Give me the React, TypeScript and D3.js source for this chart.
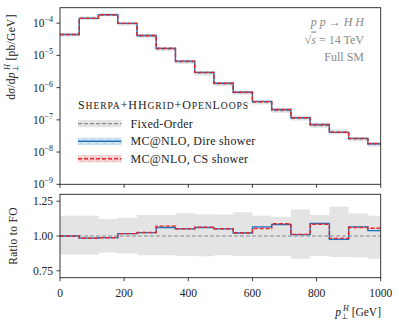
import React from "react";
import * as d3 from "d3";

const binEdges = [0, 60, 120, 180, 240, 300, 360, 420, 480, 540, 600, 660, 720, 780, 840, 900, 960, 1000];
const foValues = [4.43e-5, 1.43e-4, 1.85e-4, 9.7e-5, 4.03e-5, 1.56e-5, 6.3e-6, 2.8e-6, 1.3e-6, 7.0e-7, 3.5e-7, 1.93e-7, 1.15e-7, 6.6e-8, 4.2e-8, 2.5e-8, 1.75e-8];
const ratioDire = [1.0, 0.985, 0.988, 1.017, 1.024, 1.061, 1.051, 1.061, 1.051, 1.022, 1.066, 1.083, 1.01, 1.09, 0.976, 1.066, 1.039];
const ratioCS = [1.0, 0.984, 0.987, 1.017, 1.025, 1.071, 1.052, 1.063, 1.052, 1.023, 1.054, 1.088, 1.012, 1.085, 0.983, 1.061, 1.056];
const foBandUp = [1.146, 1.146, 1.122, 1.132, 1.151, 1.151, 1.163, 1.156, 1.154, 1.17, 1.146, 1.137, 1.19, 1.151, 1.21, 1.161, 1.146];
const foBandDown = [0.866, 0.866, 0.881, 0.874, 0.861, 0.861, 0.856, 0.854, 0.861, 0.856, 0.856, 0.856, 0.837, 0.856, 0.849, 0.847, 0.837];
const mcBandHalf = [0.004, 0.004, 0.004, 0.004, 0.004, 0.005, 0.005, 0.005, 0.005, 0.005, 0.005, 0.006, 0.006, 0.006, 0.007, 0.007, 0.008];

const xTicks = [0, 200, 400, 600, 800, 1000];
const yTopExps = [-9, -8, -7, -6, -5, -4];
const ratioTicks = [0.75, 1.0, 1.25];

// legend title pieces: [text, isSmallCap]
const legendTitleParts: [string, boolean][] = [
  ["S", false], ["HERPA", true], ["+HH", false], ["GRID", true],
  ["+O", false], ["PEN", true], ["L", false], ["OOPS", true],
];
const legendLabels = ["Fixed-Order", "MC@NLO, Dire shower", "MC@NLO, CS shower"];
const processLines = ["p p \u2192 H H", "\u221As = 14 TeV", "Full SM"];

const FONT = "'Liberation Serif', 'Times New Roman', serif";
const BLUE = "#1f74c0";
const RED = "#e5262b";
const GRAY = "#8a8a8a";

const L = 60, R = 380.7;
const TT = 7.7, TB = 184.3;
const BT = 194.3, BB = 277.7;

export default function App() {
  const x = d3.scaleLinear().domain([0, 1000]).range([L, R]);
  const yTop = d3.scaleLog().domain([1e-9, Math.pow(10, -3.52)]).range([TB, TT]);
  const yR = d3.scaleLinear().domain([0.7, 1.3]).range([BB, BT]);

  const stepPts = (vals: number[]) => {
    const pts = vals.map((v, i) => [binEdges[i], v] as [number, number]);
    pts.push([binEdges[binEdges.length - 1], vals[vals.length - 1]]);
    return pts;
  };
  const bandPts = (lo: number[], hi: number[]) => {
    const pts = lo.map((v, i) => ({ x: binEdges[i], lo: v, hi: hi[i] }));
    pts.push({ x: binEdges[binEdges.length - 1], lo: lo[lo.length - 1], hi: hi[hi.length - 1] });
    return pts;
  };

  const lineTop = d3.line<[number, number]>().x(d => x(d[0])).y(d => yTop(d[1])).curve(d3.curveStepAfter);
  const lineR = d3.line<[number, number]>().x(d => x(d[0])).y(d => yR(d[1])).curve(d3.curveStepAfter);
  const areaTop = d3.area<any>().x(d => x(d.x)).y0(d => yTop(d.lo)).y1(d => yTop(d.hi)).curve(d3.curveStepAfter);
  const areaR = d3.area<any>().x(d => x(d.x)).y0(d => yR(d.lo)).y1(d => yR(d.hi)).curve(d3.curveStepAfter);

  const dire = foValues.map((v, i) => v * ratioDire[i]);
  const cs = foValues.map((v, i) => v * ratioCS[i]);
  const foLo = foValues.map((v, i) => v * foBandDown[i]);
  const foHi = foValues.map((v, i) => v * foBandUp[i]);
  const direLo = dire.map((v, i) => v * (1 - mcBandHalf[i]));
  const direHi = dire.map((v, i) => v * (1 + mcBandHalf[i]));
  const csLo = cs.map((v, i) => v * (1 - mcBandHalf[i]));
  const csHi = cs.map((v, i) => v * (1 + mcBandHalf[i]));

  const rOne = foValues.map(() => 1);
  const rdLo = ratioDire.map((v, i) => v - mcBandHalf[i]);
  const rdHi = ratioDire.map((v, i) => v + mcBandHalf[i]);
  const rcLo = ratioCS.map((v, i) => v - mcBandHalf[i]);
  const rcHi = ratioCS.map((v, i) => v + mcBandHalf[i]);

  const legX = 78;
  const legW = 43.5;
  const legRows = [123.7, 141.3, 158.7];

  return (
    <svg width={399} height={326} style={{ position: "absolute", left: 0, top: 0, background: "#fff" }} fontFamily={FONT}>
      <defs>
        <pattern id="hatchF" width="8" height="8" patternUnits="userSpaceOnUse">
          <path d="M-2,10 L10,-2" stroke="#b8c4cc" strokeWidth={0.8} />
        </pattern>
        <pattern id="hatchB" width="8" height="8" patternUnits="userSpaceOnUse">
          <path d="M-2,-2 L10,10" stroke="#c8b8ba" strokeWidth={0.8} />
        </pattern>
        <clipPath id="clipTop"><rect x={L} y={TT} width={R - L} height={TB - TT} /></clipPath>
        <clipPath id="clipBot"><rect x={L} y={BT} width={R - L} height={BB - BT} /></clipPath>
      </defs>

      {/* top panel */}
      <g clipPath="url(#clipTop)">
        <path d={areaTop(bandPts(foLo, foHi)) || ""} fill="#e4e4e4" />
        <path d={areaTop(bandPts(direLo, direHi)) || ""} fill="#c6dcee" opacity={0.8} />
        <path d={areaTop(bandPts(csLo, csHi)) || ""} fill="#f6c9cb" opacity={0.8} />
        <path d={lineTop(stepPts(foValues)) || ""} fill="none" stroke={GRAY} strokeWidth={1.2} strokeDasharray="4,2" />
        <path d={lineTop(stepPts(dire)) || ""} fill="none" stroke={BLUE} strokeWidth={1.4} />
        <path d={lineTop(stepPts(cs)) || ""} fill="none" stroke={RED} strokeWidth={1.4} strokeDasharray="4,2" />
      </g>
      <rect x={L} y={TT} width={R - L} height={TB - TT} fill="none" stroke="#222" strokeWidth={0.9} />
      {xTicks.map(t => (
        <line key={"tx" + t} x1={x(t)} x2={x(t)} y1={TB} y2={TB + 3.5} stroke="#222" strokeWidth={0.9} />
      ))}
      {yTopExps.map(e => (
        <g key={"ty" + e}>
          <line x1={L - 3.5} x2={L} y1={yTop(Math.pow(10, e))} y2={yTop(Math.pow(10, e))} stroke="#222" strokeWidth={0.9} />
          <text x={L - 7} y={yTop(Math.pow(10, e)) + 4} textAnchor="end" fontSize={11.5} fill="#222">
            10<tspan dy={-5} fontSize={8}>{"\u2212" + Math.abs(e)}</tspan>
          </text>
        </g>
      ))}

      {/* y label top */}
      <text transform="translate(15,57) rotate(-90)" textAnchor="middle" fontSize={11.5} fill="#222" letterSpacing={0.3}>
        d<tspan fontStyle="italic">σ</tspan>/d<tspan fontStyle="italic">p</tspan>
        <tspan dy={3} fontSize={8}>⊥</tspan>
        <tspan dx={-5} dy={-8} fontSize={8} fontStyle="italic">H</tspan>
        <tspan dy={5}> [pb/GeV]</tspan>
      </text>

      {/* process annotation */}
      <text x={364} y={26} textAnchor="end" fontSize={12} fill={GRAY} fontStyle="italic">
        p p <tspan fontStyle="normal">{"\u2192"}</tspan> H H
      </text>
      <text x={364} y={43.5} textAnchor="end" fontSize={12} fill={GRAY}>
        {"\u221A"}<tspan fontStyle="italic" textDecoration="overline">s</tspan> = 14 TeV
      </text>
      <text x={364} y={60.5} textAnchor="end" fontSize={12} fill={GRAY}>{processLines[2]}</text>

      {/* legend */}
      <text x={legX} y={108.5} fontSize={12} fill="#222" letterSpacing={0.9}>
        {legendTitleParts.map(([s, sc], i) => (
          <tspan key={i} fontSize={sc ? 9.6 : 12}>{s}</tspan>
        ))}
      </text>
      <rect x={legX} y={legRows[0] - 3.6} width={legW} height={7.2} fill="#e4e4e4" />
      <line x1={legX} x2={legX + legW} y1={legRows[0]} y2={legRows[0]} stroke={GRAY} strokeWidth={1.2} strokeDasharray="4,2" />
      <rect x={legX} y={legRows[1] - 3.6} width={legW} height={7.2} fill="#cde2f2" />
      <rect x={legX} y={legRows[1] - 3.6} width={legW} height={7.2} fill="url(#hatchF)" />
      <line x1={legX} x2={legX + legW} y1={legRows[1]} y2={legRows[1]} stroke={BLUE} strokeWidth={1.4} />
      <rect x={legX} y={legRows[2] - 3.6} width={legW} height={7.2} fill="#f8d2d4" />
      <rect x={legX} y={legRows[2] - 3.6} width={legW} height={7.2} fill="url(#hatchB)" />
      <line x1={legX} x2={legX + legW} y1={legRows[2]} y2={legRows[2]} stroke={RED} strokeWidth={1.4} strokeDasharray="4,2" />
      {legendLabels.map((s, i) => (
        <text key={s} x={130.5} y={legRows[i] + 4} fontSize={12} fill="#222" letterSpacing={0.3}>{s}</text>
      ))}

      {/* ratio panel */}
      <g clipPath="url(#clipBot)">
        <path d={areaR(bandPts(foBandDown, foBandUp)) || ""} fill="#e4e4e4" />
        <path d={areaR(bandPts(rdLo, rdHi)) || ""} fill="#c6dcee" opacity={0.8} />
        <path d={areaR(bandPts(rcLo, rcHi)) || ""} fill="#f6c9cb" opacity={0.8} />
        <path d={lineR(stepPts(rOne)) || ""} fill="none" stroke={GRAY} strokeWidth={1.2} strokeDasharray="4,2" />
        <path d={lineR(stepPts(ratioDire)) || ""} fill="none" stroke={BLUE} strokeWidth={1.4} />
        <path d={lineR(stepPts(ratioCS)) || ""} fill="none" stroke={RED} strokeWidth={1.4} strokeDasharray="4,2" />
      </g>
      <rect x={L} y={BT} width={R - L} height={BB - BT} fill="none" stroke="#222" strokeWidth={0.9} />
      {xTicks.map(t => (
        <g key={"bx" + t}>
          <line x1={x(t)} x2={x(t)} y1={BB} y2={BB + 3.5} stroke="#222" strokeWidth={0.9} />
          <text x={x(t)} y={297} textAnchor="middle" fontSize={11.5} fill="#222">{t}</text>
        </g>
      ))}
      {ratioTicks.map(t => (
        <g key={"by" + t}>
          <line x1={L - 3.5} x2={L} y1={yR(t)} y2={yR(t)} stroke="#222" strokeWidth={0.9} />
          <text x={L - 7} y={yR(t) + 4} textAnchor="end" fontSize={11.5} fill="#222">{t.toFixed(2)}</text>
        </g>
      ))}
      <text transform={`translate(17,${yR(1.0)}) rotate(-90)`} textAnchor="middle" fontSize={11.5} fill="#222" letterSpacing={0.3}>Ratio to FO</text>

      {/* x label */}
      <text x={381} y={315.5} textAnchor="end" fontSize={11.5} fill="#222">
        <tspan fontStyle="italic">p</tspan>
        <tspan dy={3} fontSize={8}>⊥</tspan>
        <tspan dx={-5} dy={-8} fontSize={8} fontStyle="italic">H</tspan>
        <tspan dy={5}> [GeV]</tspan>
      </text>
    </svg>
  );
}
